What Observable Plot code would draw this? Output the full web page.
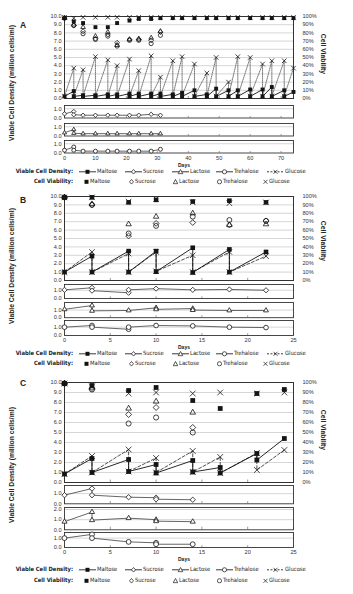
<!DOCTYPE html>
<html><head><meta charset="utf-8">
<script src="https://cdn.jsdelivr.net/npm/d3@7"></script>
<script src="https://cdn.jsdelivr.net/npm/@observablehq/plot@0.6"></script>
<style>
html,body{margin:0;padding:0;background:#fff;}
#root{position:relative;width:353px;height:594px;overflow:hidden;}
#root > svg{position:absolute;left:0;overflow:visible;}
.t{position:absolute;white-space:nowrap;color:#222;line-height:1;}
.t svg{vertical-align:middle;margin-right:1px;}
</style></head><body><div id="root"></div>
<script>
// ---------------- DATA ----------------
const vcdTicks = [0,1,2,3,4,5,6,7,8,9,10];
const viabilityLabels = ["0%","10%","20%","30%","40%","50%","60%","70%","80%","90%","100%"];
const xTicksA = [0,10,20,30,40,50,60,70];
const xTicksBC = [0,5,10,15,20,25];
const legendNames = ["Maltose","Sucrose","Lactose","Trehalose","Glucose"];
const legendSymbols = ["square","diamond","triangle","circle","times"];

// Panel A
const daysA = [0,3,6,10,14,17,21,24,28,31,35,38,42,46,49,53,56,60,64,67,71,74];
const maltoseHighA = [null,0.9,0.4,0.4,0.5,0.5,0.6,0.6,0.6,0.6,0.5,0.7,1.0,0.5,1.2,1.0,1.0,1.1,1.1,1.4,1.0,0.8];
const maltoseLowA  = [0.25,0.25,0.25,0.25,0.25,0.25,0.25,0.25,0.25,0.25,0.25,0.25,0.25,0.25,0.25,0.25,0.25,0.25,0.25,0.25,0.25,null];
const glucoseHighA = [null,3.7,3.5,5.1,4.7,4.0,4.8,3.4,5.2,2.6,4.6,5.1,4.2,3.1,5.0,2.0,5.1,5.0,4.2,4.6,4.6,3.7];
const glucoseLowA  = [0.3,0.3,0.3,0.3,0.3,0.3,0.3,0.3,0.3,0.3,0.3,0.3,0.3,0.3,0.3,0.3,0.3,0.3,0.3,0.3,0.3,null];
const maltoseViaA = [98,94,92,87,87,92,95,97,97,98,98,98,98,98,98,98,98,98,98,98,98,98];
const glucoseViaA = [99,98,99,99,99,99,99,99,99,99,99,99,99,99,99,99,99,99,99,99,99,99];
const daysViaSubA = [0,3,6,10,14,17,21,24,28,31];
const sucroseViaA   = [98,89,82,73,78,68,72,72,71,81];
const lactoseViaA   = [98,90,87,76,81,65,72,73,74,82];
const trehaloseViaA = [98,89,79,72,76,64,71,71,67,77];
const subDaysA = [0,3,3,6,10,14,17,21,24,28,31];
const sucroseVcdA   = [0.45,0.7,0.35,0.3,0.3,0.3,0.3,0.3,0.3,0.4,0.3];
const lactoseVcdA   = [0.35,0.7,0.3,0.25,0.25,0.25,0.25,0.25,0.25,0.25,0.25];
const trehaloseVcdA = [0.3,0.65,0.3,0.2,0.2,0.2,0.2,0.2,0.2,0.2,0.4];

// Panel B
const daysB = [0,3,7,10,14,18,22];
const maltoseHighB = [null,2.9,3.5,3.5,3.9,3.7,3.4];
const maltoseLowB  = [1.0,1.0,1.0,1.05,0.95,1.0,null];
const glucoseHighB = [null,3.4,3.2,3.4,3.0,3.4,2.9];
const glucoseLowB  = [1.0,1.0,1.0,1.1,1.0,1.0,null];
const maltoseViaB   = [99,99,93,96,94,95,93];
const glucoseViaB   = [99,99,94,97,93,92,93];
const sucroseViaB   = [99,90,53,68,69,66,71];
const lactoseViaB   = [99,91,67,76,80,66,67];
const trehaloseViaB = [99,90,56,65,76,72,71];
const sucroseDaysB = [0,3,3,7,7,10,14,18,22];
const sucroseVcdB  = [1.05,1.3,0.95,0.7,1.05,1.2,1.05,1.1,1.0];
const lactoseDaysB = [0,3,3,7,10,10,14,14,18,22];
const lactoseVcdB  = [1.1,1.6,0.9,0.95,1.3,1.1,1.2,1.0,0.95,0.95];
const trehaloseDaysB = [0,3,3,7,7,10,14,18,22];
const trehaloseVcdB  = [1.0,1.2,1.0,0.75,1.0,1.2,1.15,1.0,0.95];

// Panel C
const daysC = [0,3,7,10,14,17,21,24];
const maltoseHighC = [null,2.4,2.3,1.8,2.2,1.5,2.9,4.4];
const maltoseLowC  = [0.85,1.0,1.1,0.95,1.05,0.95,2.25,null];
const glucoseHighC = [null,2.65,3.3,2.45,3.15,2.55,2.95,3.25];
const glucoseLowC  = [0.85,1.0,1.1,1.0,1.05,0.95,1.25,null];
const maltoseViaC = [99,97,92,95,82,74,89,93];
const glucoseViaC = [99,96,89,90,89,90,89,90];
const daysViaSubC = [0,3,7,10,14];
const sucroseViaC   = [99,94,68,75,55];
const lactoseViaC   = [99,95,74,81,70];
const trehaloseViaC = [99,93,59,65,50];
const subDaysC = [0,3,3,7,10,10,14];
const sucroseVcdC   = [0.85,1.5,0.85,0.65,0.6,0.45,0.4];
const lactoseVcdC   = [0.8,1.75,0.95,1.15,1.0,0.85,0.8];
const trehaloseVcdC = [1.0,1.4,1.0,0.6,0.5,0.35,0.35];

// ---------------- DRAWING ----------------
const root = document.getElementById("root");
const FONT = '"Liberation Sans", Arial, Helvetica, sans-serif';
const NARROW = '"Liberation Sans Narrow", "Arial Narrow", "DejaVu Sans Condensed", sans-serif';
const INK = "#151515";
const NS = "http://www.w3.org/2000/svg";

function glyphSvg(sym, withLine, dashed) {
  const w = withLine ? 17 : 5, h = 6, cx = w / 2, cy = 3;
  const s = document.createElementNS(NS, "svg");
  s.setAttribute("width", w); s.setAttribute("height", h);
  let inner = "";
  if (withLine) inner += `<line x1="0" y1="${cy}" x2="${w}" y2="${cy}" stroke="#222" stroke-width="0.9" ${dashed ? 'stroke-dasharray="2,1.5"' : ""}/>`;
  const st = 'stroke="#111" stroke-width="0.7"';
  if (sym === "square") inner += `<rect x="${cx-2}" y="${cy-2}" width="4" height="4" fill="#111"/>`;
  if (sym === "diamond") inner += `<path d="M${cx},${cy-2.3}L${cx+2},${cy}L${cx},${cy+2.3}L${cx-2},${cy}Z" fill="white" ${st}/>`;
  if (sym === "triangle") inner += `<path d="M${cx},${cy-2.3}L${cx+2.3},${cy+1.9}L${cx-2.3},${cy+1.9}Z" fill="white" ${st}/>`;
  if (sym === "circle") inner += `<circle cx="${cx}" cy="${cy}" r="2.1" fill="white" ${st}/>`;
  if (sym === "times") inner += `<path d="M${cx-2},${cy-2}L${cx+2},${cy+2}M${cx+2},${cy-2}L${cx-2},${cy+2}" fill="none" ${st}/>`;
  s.innerHTML = inner;
  return s;
}

function addText(str, x, y, o = {}) {
  const d = document.createElement("div");
  d.className = "t";
  if (o.glyph) d.appendChild(o.glyph);
  d.appendChild(document.createTextNode(str));
  d.style.fontSize = (o.size || 6) + "px";
  d.style.fontWeight = o.weight || "normal";
  d.style.fontFamily = o.family || FONT;
  d.style.left = x + "px"; d.style.top = y + "px";
  const a = o.anchor || "start";
  const tx = a === "start" ? "0" : a === "end" ? "-100%" : "-50%";
  d.style.transform = `translate(${tx},-50%)` + (o.rotate ? ` rotate(${o.rotate}deg)` : "");
  root.appendChild(d);
}
function place(svg, top) { svg.style.top = top + "px"; root.appendChild(svg); }

function sawtooth(days, high, low) {
  const p = [];
  days.forEach((d, i) => {
    if (high[i] != null) p.push({day: d, v: high[i]});
    if (low[i] != null) p.push({day: d, v: low[i]});
  });
  return p;
}
function pts(days, vals, scale = 1) { return vals.map((v, i) => ({day: days[i], v: v * scale})); }

const baseStyle = {fontSize: "5.6px", fontFamily: FONT, color: "#333", background: "none", overflow: "visible"};

function mainPanel(cfg) {
  const mt = 6, mb = 6;
  const svg = Plot.plot({
    width: 353, height: cfg.bottom - cfg.top + mt + mb,
    marginLeft: 64, marginRight: 60, marginTop: mt, marginBottom: mb,
    x: {domain: cfg.xDomain, axis: null},
    y: {domain: [0, 10], axis: null},
    style: baseStyle,
    marks: [
      Plot.gridY({ticks: vcdTicks, stroke: "#c4c4c4", strokeOpacity: 1, strokeWidth: 0.7}),
      Plot.ruleX(cfg.xTicks, {y1: 0, y2: 0.25, stroke: "#555", strokeWidth: 0.6}),
      Plot.frame({stroke: "#333", strokeWidth: 1}),
      Plot.axisY({ticks: vcdTicks, anchor: "left", tickSize: 0, tickPadding: 3, tickFormat: d => d.toFixed(1), label: null}),
      Plot.axisY({ticks: vcdTicks, anchor: "right", tickSize: 0, tickPadding: 9, tickFormat: d => viabilityLabels[Math.round(d)], label: null}),
      ...cfg.marks
    ]
  });
  place(svg, cfg.top - mt);
}

function subPanel(cfg) {
  const mt = 3, mb = cfg.showX ? 12 : 3;
  const svg = Plot.plot({
    width: 353, height: cfg.bottom - cfg.top + mt + mb,
    marginLeft: 64, marginRight: 60, marginTop: mt, marginBottom: mb,
    x: {domain: cfg.xDomain, axis: null},
    y: {domain: cfg.yDomain, axis: null},
    style: baseStyle,
    marks: [
      Plot.gridY({ticks: cfg.yTicks.filter(t => t > 0), stroke: "#c4c4c4", strokeOpacity: 1, strokeWidth: 0.7}),
      Plot.ruleX(cfg.xTicks, {y1: 0, y2: cfg.yDomain[1] * 0.12, stroke: "#555", strokeWidth: 0.6}),
      Plot.frame({stroke: "#333", strokeWidth: 0.9}),
      Plot.axisY({ticks: cfg.yTicks, anchor: "left", tickSize: 0, tickPadding: 3, tickFormat: d => d.toFixed(1), label: null}),
      cfg.showX ? Plot.axisX({ticks: cfg.xTicks, tickSize: 0, tickPadding: 3, label: null}) : null,
      Plot.line(cfg.data, {x: "day", y: "v", stroke: "#555", strokeWidth: 0.9}),
      Plot.dot(cfg.data, {x: "day", y: "v", symbol: cfg.symbol, r: cfg.r, stroke: INK, strokeWidth: 0.8, fill: "white"})
    ]
  });
  place(svg, cfg.top - mt);
}

function mainMarks(o) {
  const malt = sawtooth(o.days, o.mHigh, o.mLow);
  const gluc = sawtooth(o.days, o.gHigh, o.gLow);
  const r = o.r;
  return [
    Plot.dot(pts(o.subDays, o.sVia, 0.1), {x: "day", y: "v", symbol: "diamond2", r: r, stroke: INK, strokeWidth: 0.8, fill: "none"}),
    Plot.dot(pts(o.subDays, o.lVia, 0.1), {x: "day", y: "v", symbol: "triangle2", r: r, stroke: INK, strokeWidth: 0.8, fill: "none"}),
    Plot.dot(pts(o.subDays, o.tVia, 0.1), {x: "day", y: "v", symbol: "circle", r: r * 0.95, stroke: INK, strokeWidth: 0.8, fill: "none"}),
    Plot.dot(pts(o.days, o.mVia, 0.1), {x: "day", y: "v", symbol: "square", r: r, fill: INK}),
    Plot.dot(pts(o.days, o.gVia, 0.1), {x: "day", y: "v", symbol: "times", r: r, stroke: INK, strokeWidth: 0.8}),
    Plot.line(gluc, {x: "day", y: "v", stroke: o.gStroke, strokeWidth: o.gWidth, strokeDasharray: o.dash}),
    Plot.line(malt, {x: "day", y: "v", stroke: "#111", strokeWidth: 0.9}),
    Plot.dot(malt, {x: "day", y: "v", symbol: "square", r: r, fill: INK}),
    Plot.dot(gluc, {x: "day", y: "v", symbol: "times", r: r, stroke: INK, strokeWidth: 0.8})
  ];
}

function legend(y1, y2) {
  const lx1 = [79, 125, 172, 216, 267];
  const lx2 = [84, 129, 173, 217, 263];
  addText("Viable Cell Density:", 73, y1, {size: 5.8, weight: "bold", anchor: "end", family: NARROW});
  legendNames.forEach((s, i) => addText(s, lx1[i], y1, {size: 5.8, family: NARROW, glyph: glyphSvg(legendSymbols[i], true, i === 4)}));
  addText("Cell Viability:", 73, y2, {size: 5.8, weight: "bold", anchor: "end", family: NARROW});
  legendNames.forEach((s, i) => addText(s, lx2[i], y2, {size: 5.8, family: NARROW, glyph: glyphSvg(legendSymbols[i], false, false)}));
}

function panel(p) {
  mainPanel({top: p.main[0], bottom: p.main[1], xDomain: p.xDomain, xTicks: p.xTicks, marks: mainMarks(p)});
  const subs = [
    {data: pts(p.sDays, p.sVcd), symbol: "diamond2"},
    {data: pts(p.lDays, p.lVcd), symbol: "triangle2"},
    {data: pts(p.tDays, p.tVcd), symbol: "circle"}
  ];
  subs.forEach((s, i) => subPanel({
    top: p.subs[i][0], bottom: p.subs[i][1], yDomain: p.subs[i][2], yTicks: p.subs[i][3],
    xDomain: p.xDomain, xTicks: p.xTicks, showX: i === 2, data: s.data, symbol: s.symbol, r: p.r * 0.9
  }));
  addText(p.letter, 20, p.letterY, {size: 8.5, weight: "bold"});
  addText("Viable Cell Density (million cells/ml)", 12, p.titleY, {size: 6.8, weight: "bold", anchor: "middle", rotate: -90});
  addText("Cell Viability", 323, p.rtitleY, {size: 6.8, weight: "bold", anchor: "middle", rotate: 90});
  addText("Days", 178, p.daysY, {size: 5, weight: "bold"});
  legend(p.leg[0], p.leg[1]);
}

panel({
  letter: "A", letterY: 25, titleY: 83, rtitleY: 54, daysY: 165, leg: [172, 182],
  main: [16, 98], xDomain: [0, 74], xTicks: xTicksA, r: 2.2, dash: "1,1", gStroke: "#444", gWidth: 0.7,
  subs: [[105, 117.5, [0, 1.35], [0, 1]], [122.5, 135, [0, 1.35], [0, 1]], [139.5, 152, [0, 1.35], [0, 1]]],
  days: daysA, mHigh: maltoseHighA, mLow: maltoseLowA, gHigh: glucoseHighA, gLow: glucoseLowA,
  mVia: maltoseViaA, gVia: glucoseViaA, subDays: daysViaSubA, sVia: sucroseViaA, lVia: lactoseViaA, tVia: trehaloseViaA,
  sDays: subDaysA, sVcd: sucroseVcdA, lDays: subDaysA, lVcd: lactoseVcdA, tDays: subDaysA, tVcd: trehaloseVcdA
});
panel({
  letter: "B", letterY: 200, titleY: 266, rtitleY: 241, daysY: 347, leg: [354, 364],
  main: [196, 280], xDomain: [0, 25], xTicks: xTicksBC, r: 2.6, dash: "3,2", gStroke: "#222", gWidth: 0.8,
  subs: [[284.3, 298.3, [0, 1.7], [0, 1]], [301.5, 316.7, [0, 2.0], [0, 1]], [319.5, 334.5, [0, 1.8], [0, 1]]],
  days: daysB, mHigh: maltoseHighB, mLow: maltoseLowB, gHigh: glucoseHighB, gLow: glucoseLowB,
  mVia: maltoseViaB, gVia: glucoseViaB, subDays: daysB, sVia: sucroseViaB, lVia: lactoseViaB, tVia: trehaloseViaB,
  sDays: sucroseDaysB, sVcd: sucroseVcdB, lDays: lactoseDaysB, lVcd: lactoseVcdB, tDays: trehaloseDaysB, tVcd: trehaloseVcdB
});
panel({
  letter: "C", letterY: 383, titleY: 465, rtitleY: 430, daysY: 559, leg: [570, 580.7],
  main: [381.7, 481.7], xDomain: [0, 25], xTicks: xTicksBC, r: 2.7, dash: "3,2", gStroke: "#222", gWidth: 0.8,
  subs: [[485, 503.3, [0, 1.8], [0, 1]], [506.7, 529, [0, 2.2], [0, 1, 2]], [531.7, 546.7, [0, 1.6], [0, 1]]],
  days: daysC, mHigh: maltoseHighC, mLow: maltoseLowC, gHigh: glucoseHighC, gLow: glucoseLowC,
  mVia: maltoseViaC, gVia: glucoseViaC, subDays: daysViaSubC, sVia: sucroseViaC, lVia: lactoseViaC, tVia: trehaloseViaC,
  sDays: subDaysC, sVcd: sucroseVcdC, lDays: subDaysC, lVcd: lactoseVcdC, tDays: subDaysC, tVcd: trehaloseVcdC
});
</script>
</body></html>
